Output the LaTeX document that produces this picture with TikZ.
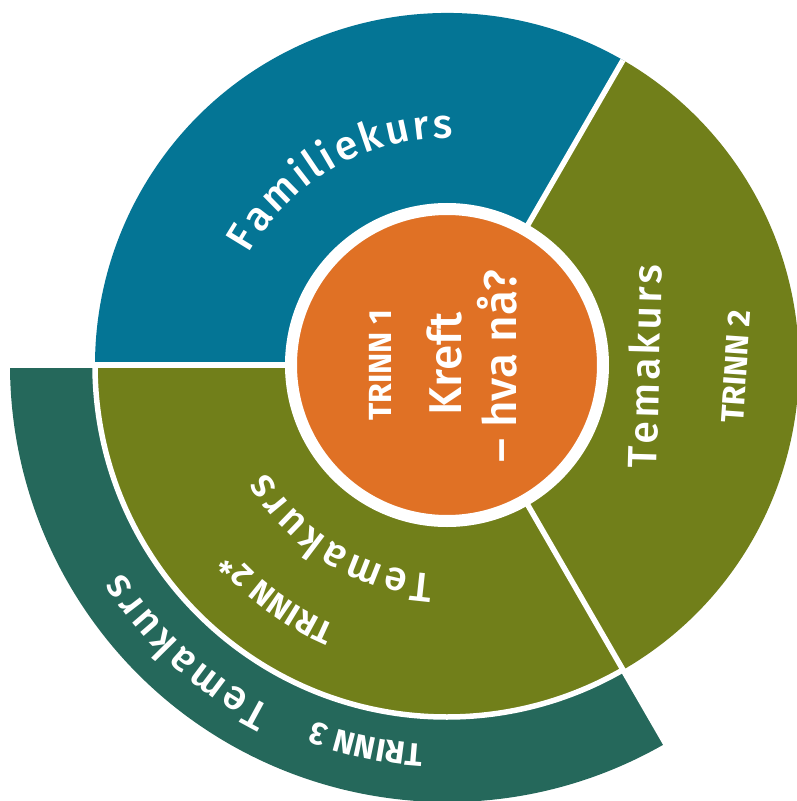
\documentclass[tikz,border=0pt]{standalone}
\usepackage{fontspec}
\setmainfont{Fira Sans}
\newfontfamily\medfont{Fira Sans}[UprightFont=* Medium]
\usetikzlibrary{decorations.text}

\definecolor{kursblue}{HTML}{047595}
\definecolor{kursolive}{HTML}{717F1A}
\definecolor{kursteal}{HTML}{25685B}
\definecolor{kursorange}{HTML}{E07125}

\newcommand{\ringfmt}{\medfont\fontsize{41}{46}\selectfont\kern3pt}
\newcommand{\trinnfmt}{\bfseries\fontsize{32}{36}\selectfont}

\tikzset{
  divider/.style = {draw = white, line width = 5.5pt},
  trinn/.style = {text = white, font = \trinnfmt, inner sep = 0pt},
  hubtext/.style = {text = white, font = \medfont\fontsize{46}{50}\selectfont, inner sep = 0pt},
  curved/.style = {decorate, decoration = {text along path, text align = center,
      text color = white, text = {#1}}}
}

\begin{document}
\begin{tikzpicture}
    [x = 1pt, y = 1pt]
    \useasboundingbox (-447,-436) rectangle (350,365);

    % rings and sectors
    \fill[kursteal] (180:352) arc[start angle = 180, end angle = 300, radius = 352]
      -- (300:437) arc[start angle = 300, end angle = 180, radius = 437] -- cycle;
    \fill[kursblue] (0,0) -- (60:352) arc[start angle = 60, end angle = 180, radius = 352] -- cycle;
    \fill[kursolive] (0,0) -- (180:352) arc[start angle = 180, end angle = 300, radius = 352] -- cycle;
    \fill[kursolive] (0,0) -- (-60:352) arc[start angle = -60, end angle = 60, radius = 352] -- cycle;

    \draw[divider] (0,0) -- (60:352);
    \draw[divider] (0,0) -- (180:445);
    \draw[divider] (0,0) -- (300:445);
    \draw[divider] (180:352) arc[start angle = 180, end angle = 300, radius = 352];

    % centre
    \node[circle, fill = kursorange, draw = white, line width = 12pt,
      minimum size = 312pt, inner sep = 0pt] (hub) at (0,0) {};
    \node[trinn, rotate = 90, anchor = base] (trinn1) at (-55,0) {TRINN 1};
    \node[hubtext, rotate = 90, anchor = base] (kreft) at (15,1) {Kreft};
    \node[hubtext, rotate = 90, anchor = base] (hvana) at (70,-1.5) {– hva nå?};

    % right sector
    \path[curved = {|\ringfmt|Temakurs}] (208.5,-153.5) -- (216.5,146.5);
    \node[trinn, rotate = 86, anchor = base] (trinn2) at (300,-2.5) {TRINN 2};

    % curved labels
    \path[curved = {|\ringfmt|Familiekurs}]
      (175:227) arc[start angle = 175, end angle = 65, radius = 227];
    \path[curved = {|\ringfmt|Temakurs}]
      (290:210) arc[start angle = 290, end angle = 188, radius = 210];
    \path[curved = {|\trinnfmt|TRINN 2*}]
      (267:283) arc[start angle = 267, end angle = 201, radius = 283];
    \path[curved = {|\ringfmt|Temakurs}]
      (260:385) arc[start angle = 260, end angle = 196, radius = 385];
    \path[curved = {|\trinnfmt|TRINN 3}]
      (280:380) arc[start angle = 280, end angle = 236, radius = 380];
\end{tikzpicture}
\end{document}
